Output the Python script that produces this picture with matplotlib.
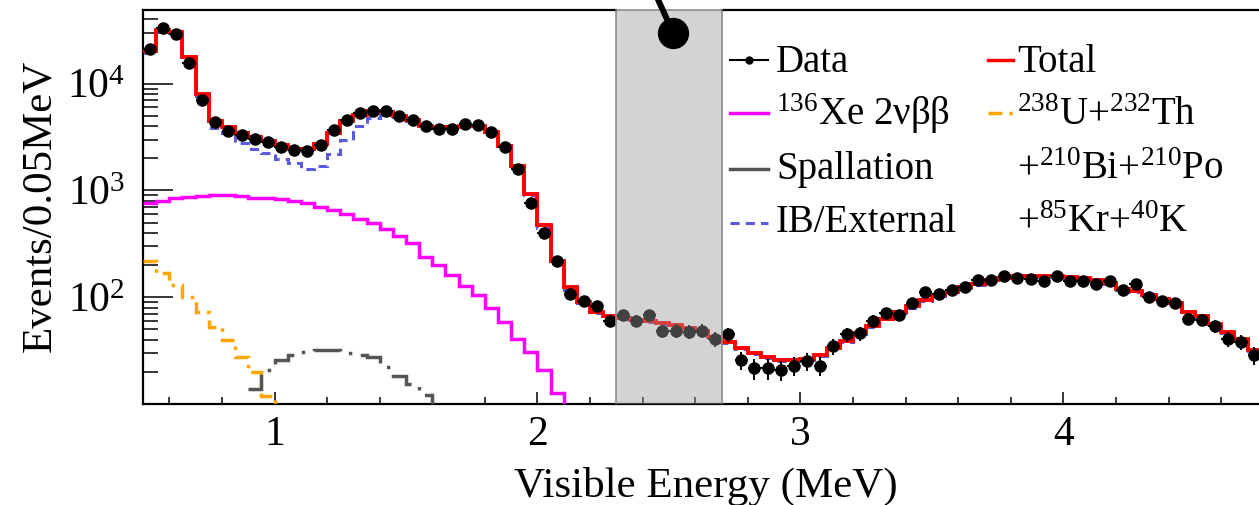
import numpy as np
import matplotlib
matplotlib.use("Agg")
import matplotlib.pyplot as plt
from matplotlib.lines import Line2D
from matplotlib.ticker import MultipleLocator, FixedLocator, LogLocator, NullFormatter

plt.rcParams['font.family'] = ['Liberation Serif', 'DejaVu Serif']
plt.rcParams['mathtext.fontset'] = 'custom'
plt.rcParams['mathtext.rm'] = 'Liberation Serif'
plt.rcParams['mathtext.it'] = 'Liberation Serif:italic'

# binning: 0.05 MeV bins starting at 0.5 MeV
E_MIN = 0.5
BIN = 0.05

data_counts = [21100, 33300, 29400, 15600, 7080, 4340, 3630, 3300, 3050, 2820,
               2570, 2370, 2350, 2680, 3650, 4530, 5310, 5580, 5500, 5010,
               4530, 4040, 3760, 3780, 4190, 4130, 3520, 2570, 1590, 762,
               398, 219, 107, 92.5, 83.6, 60, 68, 60.5, 68.3, 48.4,
               48.7, 47.7, 48.7, 40.7, 45, 25.9, 21.6, 21.6, 20.9, 22.9,
               25.3, 22.9, 34.7, 45, 46, 60, 71.5, 68, 88.5, 112,
               108, 117, 124, 146, 146, 158, 150, 149, 143, 159,
               141, 141, 134, 141, 116, 132, 101, 92.5, 88.5, 62.7,
               61.4, 53.5, 40.7, 38, 28.7, 19]

total_fit = [20100, 31600, 30200, 17800, 8000, 4430, 3900, 3450, 3160, 2880,
             2640, 2460, 2420, 2720, 3450, 4430, 5130, 5500, 5390, 4940,
             4530, 3980, 3840, 3900, 4050, 3980, 3500, 2620, 1680, 931,
             470, 219, 124, 91, 73.5, 66, 64.5, 61.4, 60, 57.2,
             55, 51, 48.4, 42.8, 38.4, 33.5, 30, 27.6, 25.9, 25.9,
             26.6, 28.5, 33.3, 39, 46, 54, 63, 72, 82, 95,
             105, 113, 125, 134, 146, 153, 158, 158, 158, 157,
             155, 150, 145, 136, 120, 115, 105, 96, 88, 73,
             66, 56, 47.6, 40.4, 32, 24]

ib_external = [19400, 30800, 29700, 16800, 7730, 3840, 3450, 2780, 2460, 2240,
               1970, 1800, 1590, 1710, 2210, 2990, 3980, 4770, 5130, 4870,
               4430, 3740, 3640, 3740, 3920, 3875, 3420, 2560, 1640, 900,
               449, 206, 116, 88, 71, 64, 63, 60, 59, 56,
               54, 50, 47.5, 42, 37.6, 33, 29.5, 27, 25.4, 25.4,
               26, 28, 32.6, 38.4, 45, 53, 62, 71, 80, 93,
               103, 111, 122, 131, 143, 150, 155, 155, 155, 154,
               152, 147, 142, 133, 118, 113, 103, 94, 86, 72,
               65, 55, 46.6, 39.6, 31.4, 23.5]

xe_2nbb = [755, 794, 846, 877, 885, 898, 898, 885, 853, 846,
           824, 794, 755, 703, 650, 596, 543, 491, 438, 374,
           323, 240, 201, 162, 128, 105, 79, 59, 41, 31,
           20.8, 12.6, 7, 4, 2, 1]

u_th = [220, 168, 130, 101, 73, 53, 40, 27.7, 20, 12, 7]

SPALL_START = 0.9
spallation = [13.7, 20.8, 25.8, 28.8, 30.5, 32, 32, 29.9, 28.5, 27.7,
              22.4, 18.4, 15.5, 12.2, 8]

roi = (2.3, 2.7)


def edges(values, start=E_MIN):
    return start + BIN * np.arange(len(values) + 1)


W, H = 1259, 505
fig = plt.figure(figsize=(W / 100, H / 100), dpi=100)
ax_left, ax_bottom, ax_top = 143, 404, 10
xmin, xmax = 0.5, 4.8
px_per_mev = 263.0
ax_w = (xmax - xmin) * px_per_mev
ax = fig.add_axes([ax_left / W, 1 - ax_bottom / H, ax_w / W, (ax_bottom - ax_top) / H])

ax.stairs(ib_external, edges(ib_external), baseline=None, color='#5a5ae0', lw=2.2,
          linestyle=(0, (3, 2)), zorder=2)
ax.stairs(xe_2nbb, edges(xe_2nbb), baseline=None, color='#ff00ff', lw=2.5, zorder=3)
ax.stairs(u_th, edges(u_th), baseline=None, color='#ffa500', lw=2.5,
          linestyle=(0, (4, 2, 1, 2)), zorder=3)
ax.stairs(spallation, edges(spallation, SPALL_START), baseline=None, color='#555555', lw=2.5,
          linestyle=(0, (8, 3, 1, 3)), zorder=3)
ax.stairs(total_fit, edges(total_fit), baseline=None, color='#ff0000', lw=2.8, zorder=4)

centers = E_MIN + BIN / 2 + BIN * np.arange(len(data_counts))
counts = np.array(data_counts)
ax.errorbar(centers, counts, yerr=np.sqrt(counts), xerr=BIN / 2, fmt='o', ms=8,
            color='k', ecolor='k', elinewidth=1.4, capsize=0, zorder=5)

# signal window band drawn on top
ax.axvspan(roi[0], roi[1], facecolor=(0.6, 0.6, 0.6), alpha=0.43, lw=0, zorder=8)
for xv in roi:
    ax.axvline(xv, color='#8c8c8c', lw=1.2, zorder=9)

ax.set_yscale('log')
ax.set_xlim(xmin, xmax)
ax.set_ylim(10, 4.9e4)

# frame: top line interrupted by the band
ax.spines['top'].set_visible(False)
ax.spines['right'].set_visible(False)
for s in ('left', 'bottom'):
    ax.spines[s].set_linewidth(1.6)
xt = ax.get_xaxis_transform()
ax.plot([xmin, roi[0]], [1, 1], transform=xt, color='k', lw=1.6, clip_on=False, zorder=10)
ax.plot([roi[1], xmax], [1, 1], transform=xt, color='k', lw=1.6, clip_on=False, zorder=10)
ax.plot([roi[0], roi[1]], [1, 1], transform=xt, color='#8c8c8c', lw=1.2, clip_on=False, zorder=10)

ax.xaxis.set_major_locator(MultipleLocator(1))
ax.xaxis.set_minor_locator(MultipleLocator(0.2))
ax.yaxis.set_major_locator(FixedLocator([1e2, 1e3, 1e4]))
ax.yaxis.set_minor_locator(LogLocator(base=10, subs=np.arange(2, 10)))
ax.yaxis.set_minor_formatter(NullFormatter())
ax.tick_params(axis='y', which='major', direction='in', length=21.5, width=1.1,
               labelsize=30, pad=13)
ax.tick_params(axis='y', which='minor', direction='in', length=10.8, width=1.1)
ax.tick_params(axis='x', which='major', direction='in', length=8.6, width=1.1,
               labelsize=30, pad=8)
ax.tick_params(axis='x', which='minor', direction='in', length=5, width=1.1)

ax.set_xlabel('Visible Energy (MeV)', fontsize=31, va='baseline')
ax.xaxis.set_label_coords((706 - ax_left) / ax_w, -(497 - ax_bottom) / (ax_bottom - ax_top))
ax.set_ylabel('Events/0.05MeV', fontsize=31, va='center', ha='center')
ax.yaxis.set_label_coords((40 - ax_left) / ax_w, (ax_bottom - 206) / (ax_bottom - ax_top))

# pin-like marker at the top of the window
ax.plot([2.516, 2.424], [2.99e4, 9.4e4], color='k', lw=4.3, clip_on=False, zorder=11,
        solid_capstyle='butt')
ax.plot([2.516], [2.99e4], 'o', color='k', ms=21.5, clip_on=False, zorder=11)


# legend drawn by hand in two columns
def fx(x):
    return x / W


def fy(y):
    return 1 - y / H


rows_line = [60, 113, 169, 223]
rows_text = [72, 125, 179, 232]
col1 = (730, 768, 776)
col2 = (988, 1013, 1017)
leg_font = 28

entries = [
    (col1, 0, dict(color='k', lw=1.5, marker='o', ms=5, markevery=[1]), 'Data'),
    (col1, 1, dict(color='#ff00ff', lw=2.5), r'$^{136}$Xe 2νββ'),
    (col1, 2, dict(color='#555555', lw=2.5), 'Spallation'),
    (col1, 3, dict(color='#5a5ae0', lw=2.2, linestyle=(0, (3, 2))), 'IB/External'),
    (col2, 0, dict(color='#ff0000', lw=2.5), 'Total'),
    (col2, 1, dict(color='#ffa500', lw=2.5, linestyle=(0, (4, 2, 1, 2))), r'$^{238}$U+$^{232}$Th'),
    (col2, 2, None, r'+$^{210}$Bi+$^{210}$Po'),
    (col2, 3, None, r'+$^{85}$Kr+$^{40}$K'),
]
for (x1, x2, xtext), row, style, label in entries:
    if style is not None:
        xs = [fx(x1), fx((x1 + x2) / 2), fx(x2)]
        ys = [fy(rows_line[row])] * 3
        fig.add_artist(Line2D(xs, ys, transform=fig.transFigure, **style))
    fig.text(fx(xtext), fy(rows_text[row]), label, fontsize=leg_font, va='baseline', ha='left')

fig.savefig('out.png', dpi=100)
